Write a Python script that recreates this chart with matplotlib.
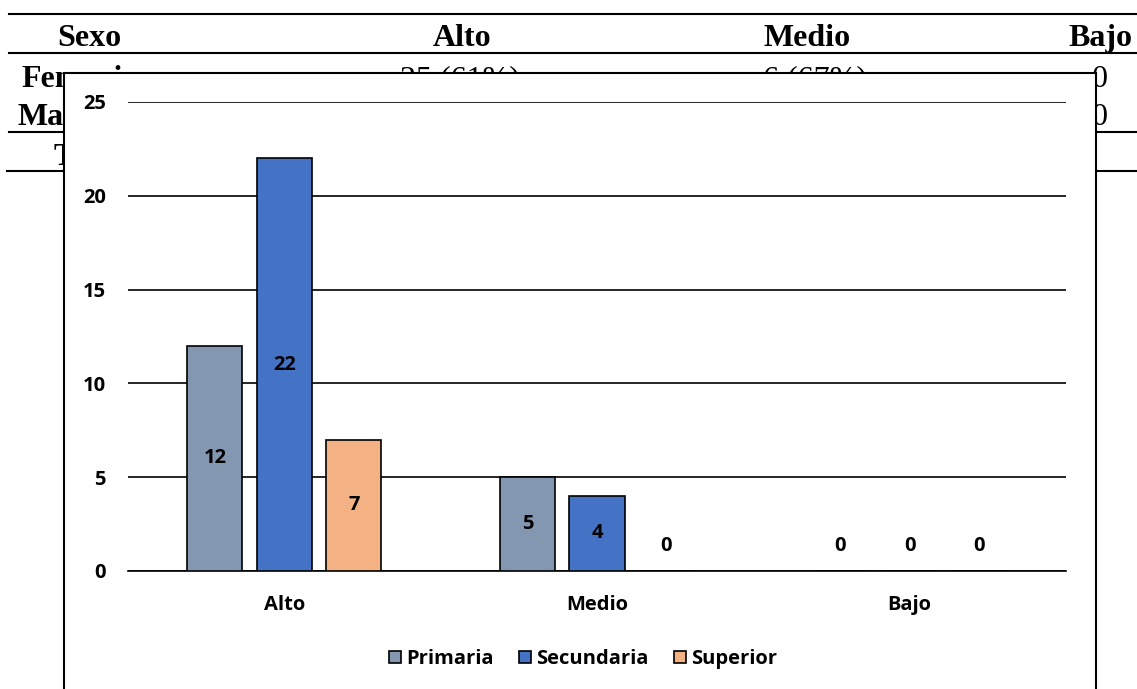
import numpy as np
import matplotlib
matplotlib.use("Agg")
from matplotlib import pyplot as plt
from matplotlib.patches import Rectangle

# background table (partly hidden behind the chart)
table_head = ["Sexo", "Alto", "Medio", "Bajo"]
table_rows = ["Femenino", "Masculino", "Total"]
row1_vals = ["25 (61%)", "6 (67%)", "0"]
row2_vals = ["0"]

# chart data
categories = ["Alto", "Medio", "Bajo"]
series = ["Primaria", "Secundaria", "Superior"]
primaria = [12, 5, 0]
secundaria = [22, 4, 0]
superior = [7, 0, 0]
colors = ["#8497B0", "#4472C4", "#F4B183"]

W, H = 1137, 689
fig = plt.figure(figsize=(W / 100, H / 100), dpi=100)

# background layer in pixel coords
bg = fig.add_axes([0, 0, 1, 1])
bg.set_xlim(0, W)
bg.set_ylim(H, 0)
bg.axis("off")

serif = "Liberation Serif"
for y, x0 in [(14, 9), (53, 9), (132, 9), (171, 7)]:
    bg.plot([x0, W], [y, y], color="black", lw=1.5, zorder=1)
for txt, x in zip(table_head, [89, 462, 807, 1100]):
    bg.text(x, 46, txt, family=serif, weight="bold", fontsize=23,
            ha="center", va="baseline", zorder=1)
for txt, y in zip(table_rows, [87, 125, 165]):
    bg.text(89, y, txt, family=serif, weight="bold", fontsize=23,
            ha="center", va="baseline", zorder=1)
for txt, x in zip(row1_vals, [460, 815, 1100]):
    bg.text(x, 87, txt, family=serif, fontsize=23,
            ha="center", va="baseline", zorder=1)
bg.text(1100, 125, row2_vals[0], family=serif, fontsize=23,
        ha="center", va="baseline", zorder=1)

# chart box covering the table
bg.add_patch(Rectangle((64, 73), 1032, 700, facecolor="white",
                       edgecolor="black", lw=1.5, zorder=5))

# chart
font = "Open Sans"
fs = 14.5
ax = fig.add_axes([128 / W, 118 / H, 938 / W, 469 / H])
ax.set_facecolor("none")
ax.set_zorder(2)

x = np.arange(len(categories))
bw = 0.176
step = 0.222
data = [primaria, secundaria, superior]
handles = []
for i, (name, vals, c) in enumerate(zip(series, data, colors)):
    xs = x + (i - 1) * step
    b = ax.bar(xs, vals, width=bw, color=c, edgecolor="black", lw=1.2,
               label=name, zorder=3)
    handles.append(b)
    for xi, v in zip(xs, vals):
        off = 18 if v == 0 else 0
        ax.annotate(str(v), (xi, v / 2), xytext=(0, off),
                    textcoords="offset points", ha="center", va="center",
                    fontsize=fs, weight="bold", family=font, zorder=4)

ax.set_xlim(-0.5, 2.5)
ax.set_ylim(0, 25)
ax.set_yticks([0, 5, 10, 15, 20, 25])
ax.yaxis.grid(True, color="black", lw=1.2, zorder=0)
ax.set_axisbelow(True)
for s in ["top", "right", "left"]:
    ax.spines[s].set_visible(False)
ax.spines["bottom"].set_linewidth(1.2)
ax.set_xticks(x)
ax.set_xticklabels(categories)
ax.tick_params(axis="both", length=0)
ax.tick_params(axis="y", pad=16)
ax.tick_params(axis="x", pad=17)
for lab in ax.get_xticklabels() + ax.get_yticklabels():
    lab.set_family(font)
    lab.set_weight("bold")
    lab.set_fontsize(fs)

fig.legend(handles=handles, labels=series, loc="center",
           bbox_to_anchor=(583 / W, 30 / H), ncol=3, frameon=False,
           handlelength=0.6, handleheight=0.6, handletextpad=0.25,
           columnspacing=1.25, prop={"family": font, "weight": "bold", "size": fs})

fig.savefig("out.png", dpi=100)
